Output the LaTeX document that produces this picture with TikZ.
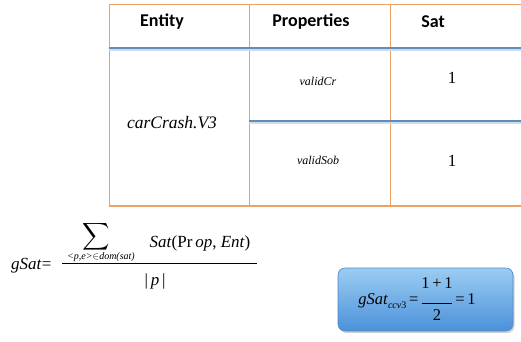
\documentclass[tikz,border=0pt]{standalone}
\usepackage{fontspec}
\usepackage{graphicx}
\setmainfont{Liberation Serif}
\newfontfamily\headfont{Carlito}
\usetikzlibrary{shadows,shadings}
\definecolor{gridorange}{RGB}{236,160,100}
\definecolor{ruleblue}{RGB}{95,140,185}
\definecolor{boxtop}{RGB}{155,205,242}
\definecolor{boxbot}{RGB}{75,145,218}
\definecolor{boxedge}{RGB}{80,135,195}
\tikzset{
  head/.style={font=\headfont\bfseries\fontsize{18}{20}\selectfont, inner sep=0pt},
  entity/.style={font=\itshape\fontsize{17.5}{19}\selectfont, inner sep=0pt},
  prop/.style={font=\itshape\fontsize{12}{14}\selectfont, inner sep=0pt},
  val/.style={font=\fontsize{17}{19}\selectfont, inner sep=0pt},
  grid/.style={draw=gridorange, line width=0.9pt},
  rule/.style={draw=ruleblue, line width=2.2pt},
  ruleshade/.style={draw=ruleblue!30, line width=1.6pt},
  formula/.style={font=\fontsize{17}{19}\selectfont, inner sep=0pt},
}
\begin{document}
\begin{tikzpicture}[x=1pt,y=-1pt]
\useasboundingbox (0,0) rectangle (521,341);

% table grid
\draw[grid] (109,4) -- (521,4);
\draw[grid] (109,4) -- (109,206);
\draw[grid] (249,4) -- (249,206);
\draw[grid] (390,4) -- (390,206);
\draw[grid, line width=1.4pt] (109,206) -- (521,206);
% blue rules with a soft shade underneath
\draw[ruleshade] (109,49.8) -- (521,49.8);
\draw[rule] (109,48) -- (521,48);
\draw[ruleshade] (249,122.8) -- (521,122.8);
\draw[rule] (249,121) -- (521,121);

% header
\node[head] (hent) at (162,22) {Entity};
\node[head] (hprop) at (311,22) {Properties};
\node[head] (hsat) at (433,22) {Sat};

% body
\node[entity] (ent) at (172,123) {carCrash.V3};
\node[prop] (p1) at (318,81) {validCr};
\node[prop] (p2) at (318,160) {validSob};
\node[val] (v1) at (452,78) {1};
\node[val] (v2) at (452,161) {1};

% general formula
\node[formula, anchor=west] (glhs) at (11,266) {\textit{gSat}=};
\node[inner sep=0pt] (sum) at (96,237) {\scalebox{1.9}{$\displaystyle\sum$}};
\node[inner sep=0pt, font=\itshape\fontsize{10}{11}\selectfont] (sumsub) at (101,257) {\textless p,e\textgreater$\in$dom(sat)};
\node[formula] (num) at (200,243) {\textit{Sat}(Pr\,\textit{op}, \textit{Ent})};
\coordinate (barl) at (62,263);
\coordinate (barr) at (257,263);
\draw[line width=0.6pt] (barl) -- (barr);
\node[formula] (den) at (155,281) {|\,\textit{p}\,|};

% result box
\node[draw=boxedge, line width=0.6pt, rounded corners=7pt,
      top color=boxtop, bottom color=boxbot,
      minimum width=175pt, minimum height=63pt,
      drop shadow={shadow xshift=1.5pt, shadow yshift=-2pt, opacity=0.35}]
      (res) at (425.5,299.5) {};
\node[inner sep=0pt, font=\fontsize{16.5}{18}\selectfont] (restext) at (417,301)
  {\textit{gSat}\raisebox{-3.5pt}{\fontsize{10}{11}\selectfont\textit{ccv}3}$\,$=%
   \,\raisebox{-0.5pt}{$\vcenter{\hbox{\begin{tabular}{@{}c@{}}1\,+\,1\\[-3pt]\rule{30pt}{0.5pt}\\[-1pt]2\end{tabular}}}$}\,=\,1};
\end{tikzpicture}
\end{document}
